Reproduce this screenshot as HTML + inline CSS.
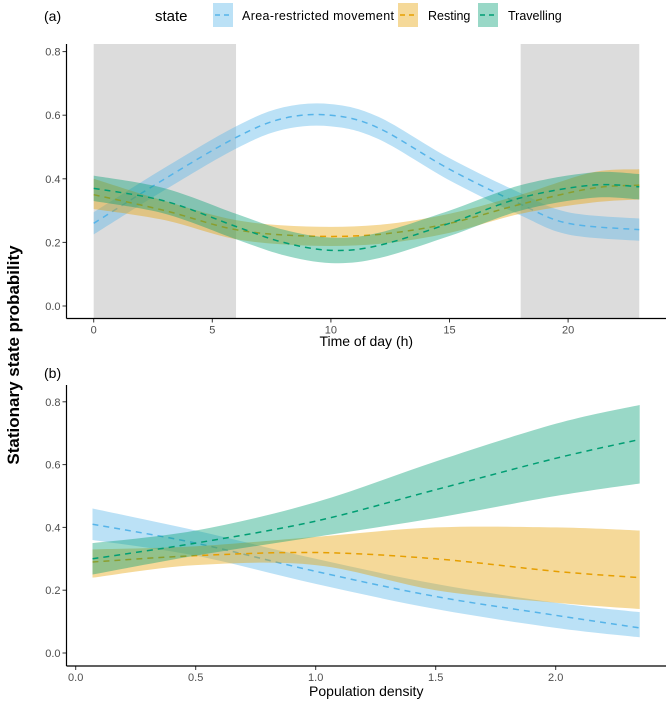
<!DOCTYPE html>
<html><head><meta charset="utf-8"><style>
body{margin:0;background:#fff}
svg{display:block;font-family:"Liberation Sans",sans-serif}
</style></head><body>
<svg id="c" width="669" height="704" viewBox="0 0 669 704">
<g id="legend">
<text x="155" y="21" font-size="15" fill="#000">state</text>
<rect x="213" y="3" width="20" height="24" fill="#56B4E9" fill-opacity="0.4"/><line x1="215" y1="15" x2="231" y2="15" stroke="#56B4E9" stroke-width="1.5" stroke-dasharray="5,4"/>
<text x="242" y="20" font-size="12.5" textLength="152">Area-restricted  movement</text>
<rect x="398" y="3" width="20" height="24" fill="#E69F00" fill-opacity="0.4"/><line x1="400" y1="15" x2="416" y2="15" stroke="#E69F00" stroke-width="1.5" stroke-dasharray="5,4"/>
<text x="428" y="20" font-size="12.5">Resting</text>
<rect x="478" y="3" width="20" height="24" fill="#009E73" fill-opacity="0.4"/><line x1="480" y1="15" x2="496" y2="15" stroke="#009E73" stroke-width="1.5" stroke-dasharray="5,4"/>
<text x="508" y="20" font-size="12.5">Travelling</text>
</g>
<text x="44" y="21" font-size="14">(a)</text>
<text x="44" y="378" font-size="14">(b)</text>
<text transform="translate(19,355) rotate(-90)" text-anchor="middle" font-size="17" font-weight="bold">Stationary state probability</text>
<g id="pa"></g><g id="pb"></g>
</svg>
<script>
const ns="http://www.w3.org/2000/svg";
// Panel A data
const timeA=[0,3,6,8,10,12,15,18,20,23];
const armA=[0.26,0.40,0.53,0.59,0.60,0.56,0.43,0.32,0.26,0.24];
const restTimeA=[0,3,6,9,12,15,18,21,23];
const restA=[0.35,0.30,0.24,0.22,0.225,0.26,0.32,0.37,0.38];
const travTimeA=[0,3,6,8,10,12,15,18,21,23];
const travA=[0.37,0.33,0.25,0.20,0.175,0.19,0.26,0.34,0.38,0.375];
const xTicksA=[0,5,10,15,20];
const yTicks=[0,0.2,0.4,0.6,0.8];
const nightA=[[0,6],[18,23]];
// Panel B data
const densB=[0.07,0.5,1.0,1.5,2.0,2.35];
const armB=[0.41,0.35,0.26,0.18,0.12,0.08];
const armBlo=[0.36,0.31,0.22,0.14,0.08,0.05];
const armBhi=[0.46,0.39,0.30,0.22,0.16,0.13];
const restB=[0.29,0.31,0.32,0.30,0.26,0.24];
const restBlo=[0.24,0.28,0.28,0.20,0.16,0.14];
const restBhi=[0.33,0.34,0.37,0.40,0.40,0.39];
const travB=[0.30,0.35,0.42,0.52,0.62,0.68];
const travBlo=[0.25,0.31,0.37,0.43,0.50,0.54];
const travBhi=[0.35,0.39,0.48,0.61,0.73,0.79];
const xTicksB=[0,0.5,1.0,1.5,2.0];

function el(p,t,a,name){const e=document.createElementNS(ns,t);for(const k in a)e.setAttribute(k,a[k]);


p.appendChild(e);return e;}
function spline(pts){let d="M"+pts[0][0]+","+pts[0][1];for(let i=0;i<pts.length-1;i++){const p0=pts[Math.max(0,i-1)],p1=pts[i],p2=pts[i+1],p3=pts[Math.min(pts.length-1,i+2)];
d+=" C"+(p1[0]+(p2[0]-p0[0])/6)+","+(p1[1]+(p2[1]-p0[1])/6)+" "+(p2[0]-(p3[0]-p1[0])/6)+","+(p2[1]-(p3[1]-p1[1])/6)+" "+p2[0]+","+p2[1];}return d;}
function bandPath(xs,lo,hi,X,Y){const up=xs.map((x,i)=>[X(x),Y(hi[i])]);const dn=xs.map((x,i)=>[X(x),Y(lo[i])]).reverse();
return spline(up)+" L"+dn[0][0]+","+dn[0][1]+spline(dn).replace(/^M[^C]*/," ")+" Z";}
function axes(g,X,Y,xt,fmtx,yAxX,xAxY,yTop,x1,title,titleY,pre){
 yTicks.forEach(v=>{el(g,"line",{x1:yAxX-4,x2:yAxX,y1:Y(v),y2:Y(v),stroke:"#333"},pre+"y-tick");
  const t=el(g,"text",{x:yAxX-6,y:Y(v)+4,"text-anchor":"end","font-size":11,fill:"#4d4d4d"},pre+"y-tick-label");t.textContent=v.toFixed(1);});
 xt.forEach(v=>{el(g,"line",{x1:X(v),x2:X(v),y1:xAxY,y2:xAxY+4,stroke:"#333"},pre+"x-tick");
  const t=el(g,"text",{x:X(v),y:xAxY+15,"text-anchor":"middle","font-size":11,fill:"#4d4d4d"},pre+"x-tick-label");t.textContent=fmtx(v);});
 el(g,"line",{x1:yAxX,x2:yAxX,y1:yTop,y2:xAxY,stroke:"#000","stroke-width":1.2},pre+"y-axis");
 el(g,"line",{x1:yAxX,x2:x1,y1:xAxY,y2:xAxY,stroke:"#000","stroke-width":1.2},pre+"x-axis");
 const t=el(g,"text",{x:(yAxX+x1)/2,y:titleY,"text-anchor":"middle","font-size":14},pre+"x-axis-title");t.textContent=title;}
function series(g,xs,lo,hi,m,col,X,Y,name){
 el(g,"path",{d:bandPath(xs,lo,hi,X,Y),fill:col,"fill-opacity":0.4,stroke:"none"},name+"-band");
 el(g,"path",{d:spline(xs.map((x,i)=>[X(x),Y(m[i])])),fill:"none",stroke:col,"stroke-width":1.5,"stroke-dasharray":"6,5"},name+"-line");}
// Panel A
const XA=v=>93.7+v*23.72, YA=v=>306-v*318;
const ga=document.getElementById("pa");
nightA.forEach(r=>el(ga,"rect",{x:XA(r[0]),y:44,width:XA(r[1])-XA(r[0]),height:318-44,fill:"#dcdcdc"},"night-shading"));
series(ga,timeA,armA.map(v=>v-0.035),armA.map(v=>v+0.035),armA,"#56B4E9",XA,YA,"arm-a");
series(ga,restTimeA,restA.map((v,i)=>v-(i==0||i>=7?0.045:0.03)),restA.map((v,i)=>v+(i==0||i>=7?0.05:0.03)),restA,"#E69F00",XA,YA,"resting-a");
series(ga,travTimeA,travA.map(v=>v-0.04),travA.map(v=>v+0.04),travA,"#009E73",XA,YA,"travelling-a");
axes(ga,XA,YA,xTicksA,v=>String(v),66.5,318.5,44,666,"Time of day (h)",346,"a-");
// Panel B
const XB=v=>75.7+v*240, YB=v=>653-v*314;
const gb=document.getElementById("pb");
series(gb,densB,armBlo,armBhi,armB,"#56B4E9",XB,YB,"arm-b");
series(gb,densB,restBlo,restBhi,restB,"#E69F00",XB,YB,"resting-b");
series(gb,densB,travBlo,travBhi,travB,"#009E73",XB,YB,"travelling-b");
axes(gb,XB,YB,xTicksB,v=>v.toFixed(1),66.5,666,385,666,"Population density",696,"b-");
</script>
</body></html>
